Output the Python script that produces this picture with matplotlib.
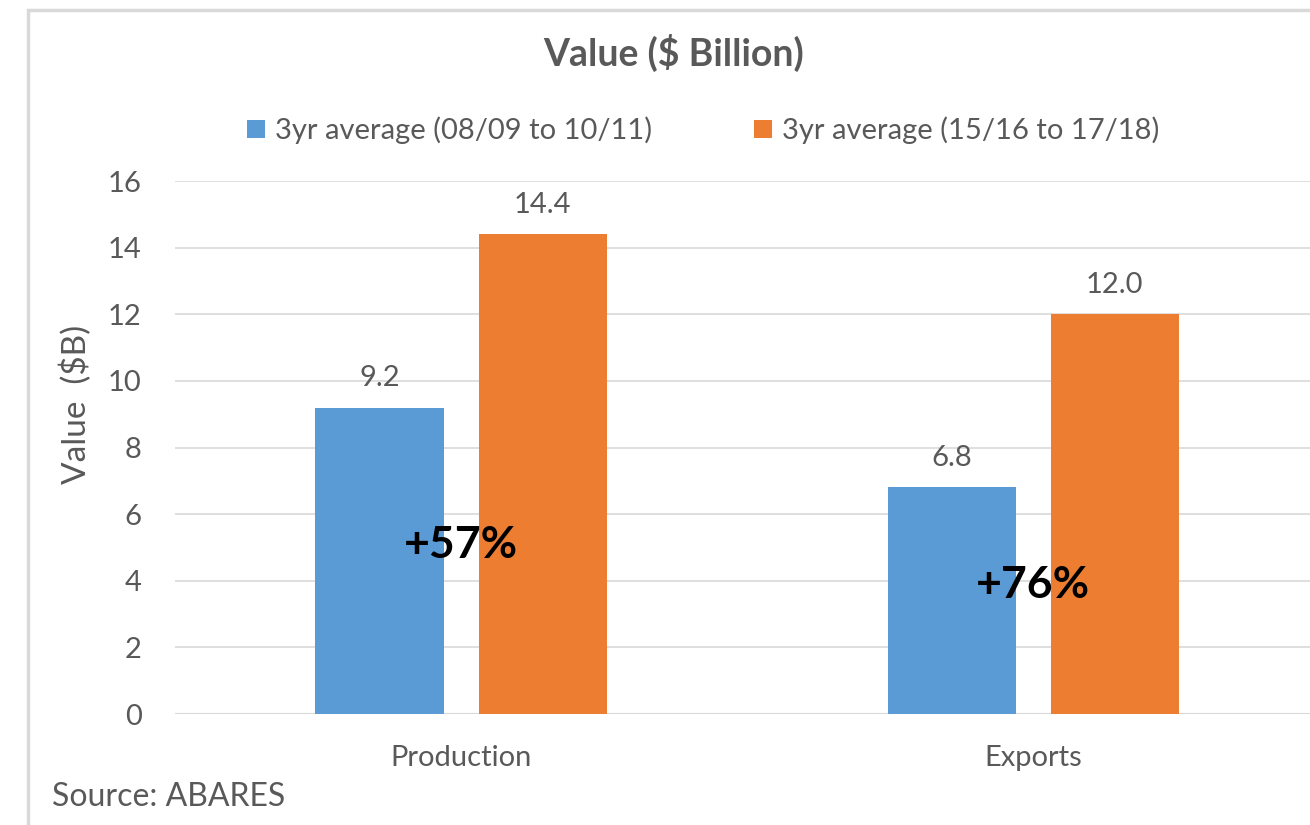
import matplotlib

matplotlib.use("Agg")
import matplotlib.pyplot as plt
import numpy as np
from matplotlib.patches import Rectangle

plt.rcParams["font.family"] = ["Lato", "DejaVu Sans"]

# data
CATS = ["Production", "Exports"]
SERIES = ["3yr average (08/09 to 10/11)", "3yr average (15/16 to 17/18)"]
EARLY = [9.2, 6.8]
LATE = [14.4, 12.0]
CHANGE = ["+57%", "+76%"]
CHANGE_Y = [5.07, 3.87]

C_BLUE = "#5B9BD5"
C_ORANGE = "#ED7D31"
C_TEXT = "#595959"
C_GRID = "#D9D9D9"

fig = plt.figure(figsize=(13.1, 8.25), dpi=100)
ax = fig.add_axes([0.1336, 0.1345, 0.8734, 0.6461])

x = np.arange(len(CATS))
w = 0.224
off = 0.1425
b1 = ax.bar(x - off, EARLY, w, color=C_BLUE, label=SERIES[0], zorder=3)
b2 = ax.bar(x + off, LATE, w, color=C_ORANGE, label=SERIES[1], zorder=3)

for bars in (b1, b2):
    for r in bars:
        ax.annotate(f"{r.get_height():.1f}",
                    (r.get_x() + r.get_width() / 2, r.get_height()),
                    textcoords="offset points", xytext=(0, 12),
                    ha="center", va="bottom", fontsize=21, color=C_TEXT)

for xi, lab, yi in zip(x, CHANGE, CHANGE_Y):
    ax.text(xi, yi, lab, ha="center", va="center", fontsize=32,
            fontweight="bold", color="black", zorder=4)

ax.set_xlim(-0.5, 1.5)
ax.set_ylim(0, 16)
ax.set_yticks(range(0, 17, 2))
ax.set_xticks(x)
ax.set_xticklabels(CATS)
ax.tick_params(axis="both", length=0, labelsize=21, labelcolor=C_TEXT)
ax.tick_params(axis="y", pad=24)
ax.tick_params(axis="x", pad=22)
ax.grid(True, axis="y", color=C_GRID, lw=1.2, zorder=0)
for s in ax.spines.values():
    s.set_visible(False)
ax.axhline(0, color=C_GRID, lw=1.5, zorder=2)
ax.set_ylabel("Value  ($B)", fontsize=24, color=C_TEXT)
ax.yaxis.set_label_coords(-0.072, 0.58)

fig.text(0.514, 0.936, "Value ($ Billion)", ha="center", va="center",
         fontsize=27, fontweight="bold", color=C_TEXT)
fig.legend(handles=[b1, b2], labels=SERIES, loc="center", ncol=2,
           bbox_to_anchor=(0.537, 0.842), frameon=False, fontsize=21,
           handlelength=0.6, handleheight=0.6, handletextpad=0.35,
           columnspacing=3.5, labelcolor=C_TEXT)
fig.text(0.040, 0.034, "Source: ABARES", ha="left", va="center",
         fontsize=23, color=C_TEXT)

# outer chart frame (only top and left edges visible)
fig.patches.append(Rectangle((0.021, -0.05), 1.05, 0.038 + 0.95 + 0.05,
                             transform=fig.transFigure, fill=False,
                             edgecolor=C_GRID, lw=2.5))

fig.savefig("out.png", dpi=100)
